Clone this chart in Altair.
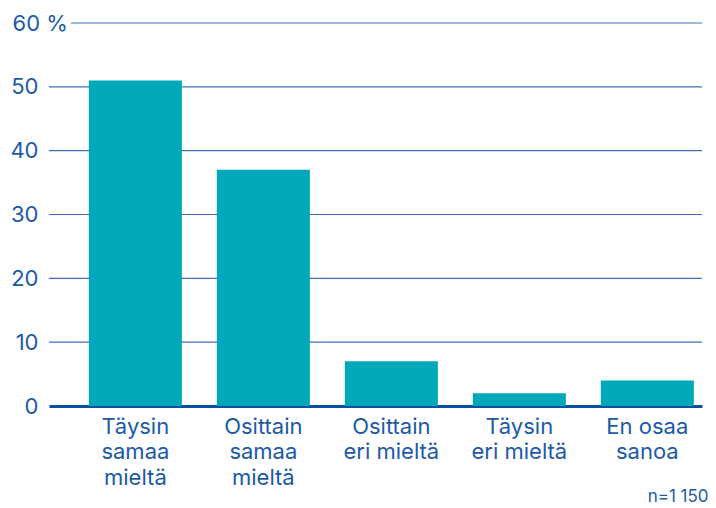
import altair as alt
import pandas as pd

categories = ["Täysin|samaa|mieltä", "Osittain|samaa|mieltä", "Osittain|eri mieltä", "Täysin|eri mieltä", "En osaa|sanoa"]
values = [51, 37, 7, 2, 4]
grid_values = [10, 20, 30, 40, 50, 60]
y_ticks = [0, 10, 20, 30, 40, 50, 60]
note = "n=1 150"

W, H = 653, 383
TEXT = "#1c5aa6"
GRID = "#3a72b6"
BASE = "#0b4f9f"
BAR = "#00a8ba"
FONT = "Inter"

df = pd.DataFrame({"cat": categories, "val": values})
gdf = pd.DataFrame({"v": grid_values})

x_enc = alt.X(
    "cat:N", sort=categories, title=None,
    scale=alt.Scale(paddingInner=0.273, paddingOuter=0.1875, align=0.83),
    axis=alt.Axis(
        labelExpr="split(datum.label, '|')", labelAngle=0, labelFont=FONT,
        labelFontSize=22, labelColor=TEXT, labelLineHeight=25.5, labelPadding=10,
        ticks=False, domainColor=BASE, domainWidth=3, labelBaseline="top",
    ),
)

grid_base = alt.Chart(gdf).mark_rule(color=GRID, strokeWidth=1.2)
grid_low = grid_base.transform_filter("datum.v < 60").encode(
    y=alt.Y("v:Q", scale=alt.Scale(domain=[0, 60])),
    x=alt.value(0), x2=alt.value(W),
)
grid_top = grid_base.transform_filter("datum.v == 60").encode(
    y=alt.Y("v:Q", scale=alt.Scale(domain=[0, 60])),
    x=alt.value(22), x2=alt.value(W),
)

bars = alt.Chart(df).mark_bar(color=BAR).encode(
    x=x_enc,
    y=alt.Y(
        "val:Q", title=None, scale=alt.Scale(domain=[0, 60]),
        axis=alt.Axis(
            values=y_ticks, grid=False, ticks=False, domain=False,
            labelExpr="datum.value == 60 ? '60 %' : datum.label",
            labelFont=FONT, labelFontSize=22, labelColor=TEXT,
            labelAlign={"condition": {"test": "datum.value == 60", "value": "left"}, "value": "right"},
            labelPadding={"condition": {"test": "datum.value == 60", "value": 37}, "value": 11},
        ),
    ),
)

chart = alt.layer(grid_low, grid_top, bars).properties(
    width=W, height=H,
    autosize=alt.AutoSizeParams(type="none"),
    padding={"left": 41, "top": 15, "right": 6, "bottom": 100},
    title=alt.TitleParams(note, orient="bottom", anchor="end", font=FONT, fontSize=17,
                          fontWeight="normal", color=TEXT, offset=1, dx=6),
).configure_view(stroke=None)

chart.save("out.html", embed_options={"renderer": "svg", "actions": False})
